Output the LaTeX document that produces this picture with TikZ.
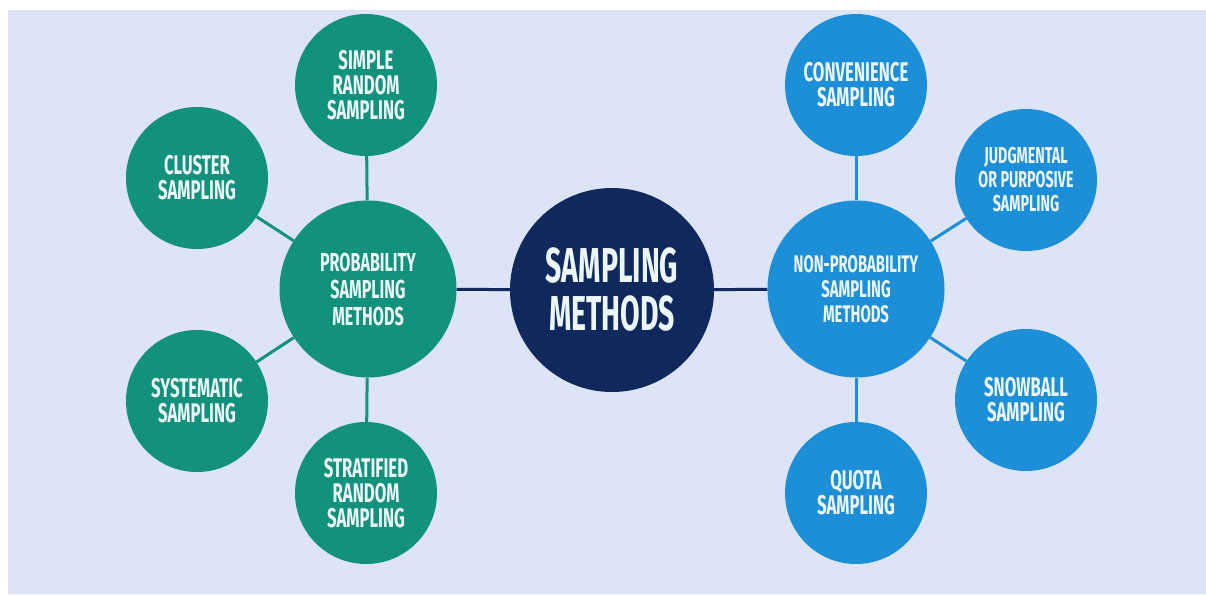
\documentclass[tikz,border=0pt]{standalone}
\usepackage{fontspec}
\newfontfamily\labelfont{Fira Sans}[FakeStretch=0.62]
\newfontfamily\titlefont{Fira Sans}[FakeStretch=0.58]
\definecolor{pagebg}{RGB}{220,228,245}
\definecolor{tealc}{RGB}{18,146,125}
\definecolor{bluec}{RGB}{28,143,216}
\definecolor{navyc}{RGB}{16,40,92}
\definecolor{txtc}{RGB}{236,246,248}
\tikzset{
  bubble/.style={circle, inner sep=0pt, align=center, text=txtc},
  smallfont/.style={font=\labelfont\bfseries\fontsize{27}{25}\selectfont},
  midfont/.style={font=\labelfont\bfseries\fontsize{26}{27}\selectfont},
  leaf/.style={bubble, minimum size=142pt, smallfont},
  hub/.style={bubble, minimum size=177pt, midfont},
  tealleaf/.style={leaf, fill=tealc},
  blueleaf/.style={leaf, fill=bluec},
  link/.style={line width=3pt},
}
\begin{document}
\begin{tikzpicture}[x=1pt,y=-1pt]
  % page area and tinted panel
  \fill[white] (0,0) rectangle (1206,594);
  \fill[pagebg] (8,10) rectangle (1206,594);
  \useasboundingbox (0,0) rectangle (1206,594);

  % central topic
  \node[bubble, fill=navyc, minimum size=204pt,
        font=\titlefont\bfseries\fontsize{49}{48}\selectfont] (root) at (612,290) {SAMPLING\\METHODS};

  % the two families of methods
  \node[hub, fill=tealc] (prob) at (368,289) {PROBABILITY\\SAMPLING\\METHODS};
  \node[hub, fill=bluec, font=\labelfont\bfseries\fontsize{24}{25}\selectfont] (nonprob) at (856,289) {NON-PROBABILITY\\SAMPLING\\METHODS};

  % probability methods
  \node[tealleaf] (simple) at (366,85) {SIMPLE\\RANDOM\\SAMPLING};
  \node[tealleaf] (cluster) at (197,178) {CLUSTER\\SAMPLING};
  \node[tealleaf] (systematic) at (197,401) {SYSTEMATIC\\SAMPLING};
  \node[tealleaf] (stratified) at (366,493) {STRATIFIED\\RANDOM\\SAMPLING};

  % non-probability methods
  \node[blueleaf] (convenience) at (856,85) {CONVENIENCE\\SAMPLING};
  \node[blueleaf, font=\labelfont\bfseries\fontsize{23}{24}\selectfont] (judgmental) at (1026,180) {JUDGMENTAL\\OR PURPOSIVE\\SAMPLING};
  \node[blueleaf] (snowball) at (1026,400) {SNOWBALL\\SAMPLING};
  \node[blueleaf] (quota) at (856,493) {QUOTA\\SAMPLING};

  % connectors
  \draw[link, navyc] (root) -- (prob);
  \draw[link, navyc] (root) -- (nonprob);
  \draw[link, tealc] (prob) -- (simple);
  \draw[link, tealc] (prob) -- (cluster);
  \draw[link, tealc] (prob) -- (systematic);
  \draw[link, tealc] (prob) -- (stratified);
  \draw[link, bluec] (nonprob) -- (convenience);
  \draw[link, bluec] (nonprob) -- (judgmental);
  \draw[link, bluec] (nonprob) -- (snowball);
  \draw[link, bluec] (nonprob) -- (quota);
\end{tikzpicture}
\end{document}
